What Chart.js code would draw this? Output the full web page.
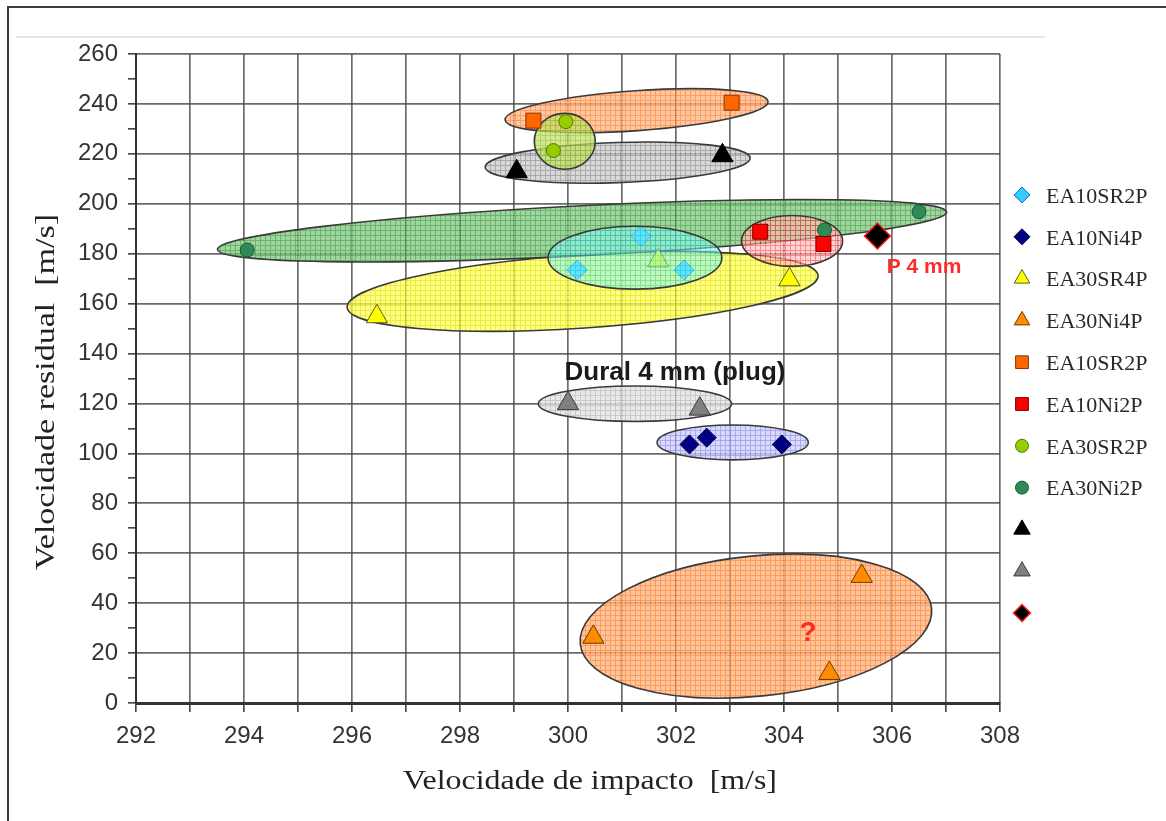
<!DOCTYPE html>
<html>
<head>
<meta charset="utf-8">
<script src="https://cdn.jsdelivr.net/npm/chart.js@4.4.1/dist/chart.umd.min.js"></script>
<style>
  html, body { margin: 0; padding: 0; background: #ffffff; }
  canvas { display: block; }
</style>
</head>
<body>
<canvas id="chart" width="1166" height="821"></canvas>
<script>
// Axis ranges
const xMin = 292, xMax = 308;
const yMin = 0, yMax = 260;

// Impact velocity (x) and residual velocity (y), m/s, per series
const ea10sr2pDiamondX = [300.17, 301.35, 302.15];
const ea10sr2pDiamondY = [173.5, 187.0, 173.5];
const ea10ni4pX = [302.25, 302.57, 303.96];
const ea10ni4pY = [103.6, 106.3, 103.6];
const ea30sr4pX = [296.46, 301.67, 304.10];
const ea30sr4pY = [154.8, 177.2, 169.6];
const ea30ni4pX = [300.47, 304.84, 305.44];
const ea30ni4pY = [26.4, 11.9, 50.8];
const ea10sr2pSquareX = [299.36, 303.03];
const ea10sr2pSquareY = [233.3, 240.5];
const ea10ni2pX = [303.56, 304.73];
const ea10ni2pY = [188.8, 183.9];
const ea30sr2pX = [299.73, 299.96];
const ea30sr2pY = [221.3, 232.9];
const ea30ni2pX = [294.06, 304.75, 306.50];
const ea30ni2pY = [181.5, 189.5, 196.8];
const blackTriX = [299.05, 302.86];
const blackTriY = [212.9, 219.3];
const grayTriX = [300.00, 302.44];
const grayTriY = [120.0, 117.8];
const plateX = [305.73];
const plateY = [187.1];

const seriesLabels = ['EA10SR2P', 'EA10Ni4P', 'EA30SR4P', 'EA30Ni4P', 'EA10SR2P',
                      'EA10Ni2P', 'EA30SR2P', 'EA30Ni2P', '', '', ''];

// Group outlines: centre, half-extent along x and y (axis units), tilt in degrees
const groupCenterX = [303.48, 303.05, 301.24, 300.27, 300.26, 300.92, 301.27, 299.94, 304.15, 301.24];
const groupCenterY = [30.8, 104.4, 119.9, 164.9, 189.2, 216.5, 237.3, 225.0, 185.1, 178.4];
const groupHalfX   = [3.27, 1.40, 1.79, 4.37, 6.76, 2.455, 2.44, 0.565, 0.935, 1.61];
const groupHalfY   = [28.1, 7.0, 7.1, 14.7, 10.0, 8.05, 8.0, 11.2, 10.2, 12.6];
const groupTilt    = [5.8, 0, 0, 3.86, 2.95, 2.0, 4.0, 0, 0, 0];

// Fill look of each group outline (checked tint); "over" ones sit above the markers
const groupLook = [
  { base: '#ffb585', line: '#ff7f2a', alpha: 0.78, over: false },
  { base: '#d0d0fa', line: '#9494ec', alpha: 0.8, over: false },
  { base: '#e4e4e4', line: '#bcbcbc', alpha: 0.8, over: false },
  { base: '#ffff5c', line: '#e6e600', alpha: 0.75, over: false },
  { base: '#7fc97f', line: '#3c9a3c', alpha: 0.75, over: false },
  { base: '#cbcbcb', line: '#8e8e8e', alpha: 0.75, over: false },
  { base: '#ffb585', line: '#ff7f2a', alpha: 0.75, over: false },
  { base: '#c2e066', line: '#92c22c', alpha: 0.72, over: false },
  { base: '#ffbcbc', line: '#ff3c3c', alpha: 0.62, over: false },
  { base: '#8ff5ea', line: '#2cd6dc', alpha: 0.55, over: true }
];

function toPoints(xs, ys) { return xs.map((v, i) => ({ x: v, y: ys[i] })); }

function gridPattern(ctx, base, line, size) {
  const c = document.createElement('canvas');
  c.width = size; c.height = size;
  const g = c.getContext('2d');
  g.fillStyle = base; g.fillRect(0, 0, size, size);
  g.fillStyle = line; g.fillRect(0, 0, size, 1); g.fillRect(0, 0, 1, size);
  return ctx.createPattern(c, 'repeat');
}

function drawGroup(chart, i) {
  const { ctx } = chart;
  const xs = chart.scales.x, ys = chart.scales.y;
  const cx = xs.getPixelForValue(groupCenterX[i]);
  const cy = ys.getPixelForValue(groupCenterY[i]);
  const rx = Math.abs(xs.getPixelForValue(groupCenterX[i] + groupHalfX[i]) - cx);
  const ry = Math.abs(ys.getPixelForValue(groupCenterY[i] + groupHalfY[i]) - cy);
  const look = groupLook[i];
  ctx.save();
  ctx.beginPath();
  ctx.ellipse(cx, cy, rx, ry, -groupTilt[i] * Math.PI / 180, 0, Math.PI * 2);
  ctx.globalAlpha = look.alpha;
  ctx.fillStyle = gridPattern(ctx, look.base, look.line, 5);
  ctx.fill();
  ctx.globalAlpha = 1;
  ctx.strokeStyle = '#3a3a3a';
  ctx.lineWidth = 1.6;
  ctx.stroke();
  ctx.restore();
}

const groupsPlugin = {
  id: 'groups',
  beforeDatasetsDraw(chart) {
    groupLook.forEach((g, i) => { if (!g.over) drawGroup(chart, i); });
  },
  afterDatasetsDraw(chart) {
    groupLook.forEach((g, i) => { if (g.over) drawGroup(chart, i); });
    const { ctx } = chart;
    ctx.save();
    ctx.textAlign = 'center';
    ctx.textBaseline = 'middle';
    ctx.fillStyle = '#1a1a1a';
    ctx.font = 'bold 26px "Liberation Sans", Arial, sans-serif';
    ctx.fillText('Dural 4 mm (plug)', 675, 373);
    ctx.fillStyle = '#ff2a2a';
    ctx.font = 'bold 21px "Liberation Sans", Arial, sans-serif';
    ctx.fillText('P 4 mm', 924, 267);
    ctx.font = 'bold 28px "Liberation Sans", Arial, sans-serif';
    ctx.fillText('?', 808, 633);
    ctx.restore();
  }
};

function stretchedText(ctx, text, targetWidth) {
  const w = ctx.measureText(text).width;
  ctx.scale(targetWidth / w, 1);
  ctx.fillText(text, 0, 0);
}

const framePlugin = {
  id: 'frame',
  afterDraw(chart) {
    const { ctx } = chart;
    ctx.save();
    // outer frame
    ctx.strokeStyle = '#3c3c3c';
    ctx.lineWidth = 2;
    ctx.beginPath();
    ctx.moveTo(8, 821); ctx.lineTo(8, 7); ctx.lineTo(1166, 7);
    ctx.stroke();
    ctx.strokeStyle = '#e4e4e4';
    ctx.beginPath();
    ctx.moveTo(16, 37); ctx.lineTo(1045, 37);
    ctx.stroke();

    // axis titles
    ctx.fillStyle = '#222222';
    ctx.textAlign = 'center';
    ctx.textBaseline = 'middle';
    ctx.font = '27px "Liberation Serif", "Times New Roman", serif';
    ctx.save();
    ctx.translate(590, 782);
    stretchedText(ctx, 'Velocidade de impacto  [m/s]', 374);
    ctx.restore();
    ctx.save();
    ctx.translate(47, 392);
    ctx.rotate(-Math.PI / 2);
    stretchedText(ctx, 'Velocidade residual  [m/s]', 356);
    ctx.restore();

    // legend
    ctx.textAlign = 'left';
    ctx.font = '22px "Liberation Serif", "Times New Roman", serif';
    chart.data.datasets.forEach((ds, i) => {
      const yy = 195 + i * 41.8;
      ctx.fillStyle = ds.backgroundColor;
      ctx.strokeStyle = ds.borderColor;
      ctx.lineWidth = ds.borderWidth;
      Chart.helpers.drawPoint(ctx, {
        pointStyle: ds.pointStyle,
        radius: ds.legendRadius,
        rotation: 0,
        borderWidth: ds.borderWidth
      }, 1022, yy);
      if (ds.label) {
        ctx.fillStyle = '#2a2a2a';
        ctx.fillText(ds.label, 1046, yy + 2);
      }
    });
    ctx.restore();
  }
};

function series(i, xs, ys, style, bg, border, radius, legendRadius, bw) {
  return {
    label: seriesLabels[i],
    data: toPoints(xs, ys),
    pointStyle: style,
    backgroundColor: bg,
    borderColor: border,
    borderWidth: bw || 1,
    pointRadius: radius,
    legendRadius: legendRadius,
    showLine: false
  };
}

const tickFont = { family: '"Liberation Sans", Arial, sans-serif', size: 24 };
const gridColor = 'rgba(70,70,70,0.8)';

new Chart(document.getElementById('chart'), {
  type: 'scatter',
  data: {
    datasets: [
      series(0, ea10sr2pDiamondX, ea10sr2pDiamondY, 'rectRot', '#33ccff', '#1f6fd0', 10, 8),
      series(1, ea10ni4pX, ea10ni4pY, 'rectRot', '#000080', '#00004a', 9.5, 8),
      series(2, ea30sr4pX, ea30sr4pY, 'triangle', '#ffff00', '#5a5a2a', 12.3, 9),
      series(3, ea30ni4pX, ea30ni4pY, 'triangle', '#ff8c00', '#6b3a00', 12.3, 9),
      series(4, ea10sr2pSquareX, ea10sr2pSquareY, 'rect', '#ff6600', '#8a3300', 10.6, 9),
      series(5, ea10ni2pX, ea10ni2pY, 'rect', '#ff0000', '#7a0000', 10.6, 9),
      series(6, ea30sr2pX, ea30sr2pY, 'circle', '#99cc00', '#4d7a00', 7, 6.5),
      series(7, ea30ni2pX, ea30ni2pY, 'circle', '#2e8b57', '#175a35', 7, 6.5),
      series(8, blackTriX, blackTriY, 'triangle', '#000000', '#000000', 12.3, 9.5),
      series(9, grayTriX, grayTriY, 'triangle', '#808080', '#3a3a3a', 12.3, 9.5),
      series(10, plateX, plateY, 'rectRot', '#000000', '#ff1a1a', 13, 8.5, 1.5)
    ]
  },
  options: {
    responsive: false,
    animation: false,
    devicePixelRatio: 1,
    events: [],
    layout: { padding: { left: 0, top: 54, right: 166, bottom: 0 } },
    plugins: {
      legend: { display: false },
      tooltip: { enabled: false },
      title: { display: false }
    },
    scales: {
      x: {
        type: 'linear',
        min: xMin, max: xMax,
        afterFit(scale) { scale.height = 118; },
        ticks: {
          stepSize: 1,
          autoSkip: false,
          maxRotation: 0,
          padding: 10,
          color: '#333333',
          font: tickFont,
          callback: v => (v % 2 === 0 ? String(v) : '')
        },
        grid: {
          color: gridColor,
          lineWidth: 1.7,
          tickLength: 9,
          tickColor: '#333333',
          tickWidth: 1.5
        },
        border: { color: '#333333', width: 3 }
      },
      y: {
        type: 'linear',
        min: yMin, max: yMax,
        afterFit(scale) { scale.width = 136; },
        ticks: {
          stepSize: 10,
          autoSkip: false,
          padding: 10,
          color: '#333333',
          font: tickFont,
          callback: v => (v % 20 === 0 ? String(v) : '')
        },
        grid: {
          color: c => (c.tick && c.tick.value % 20 === 0 ? gridColor : 'rgba(0,0,0,0)'),
          lineWidth: 1.7,
          tickLength: 8,
          tickColor: '#333333',
          tickWidth: 1.5
        },
        border: { color: '#333333', width: 2 }
      }
    }
  },
  plugins: [groupsPlugin, framePlugin]
});
</script>
</body>
</html>
